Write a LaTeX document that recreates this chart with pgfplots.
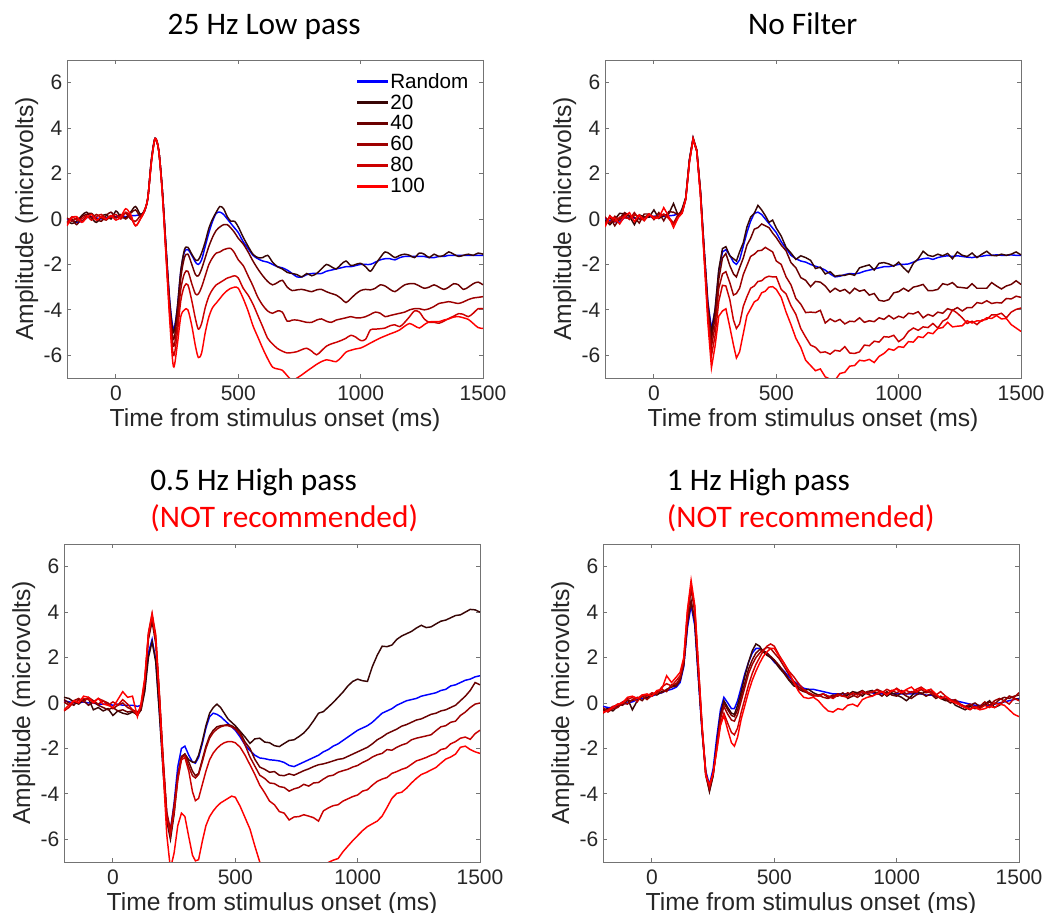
\documentclass[border=0pt]{standalone}
\usepackage{pgfplots}
\pgfplotsset{compat=1.18}
\usepackage{pgfplotstable}
\usepackage{fontspec}
\setmainfont{Liberation Sans}
\newfontfamily\calibri{Carlito}
\definecolor{erpR}{rgb}{0,0,1}
\definecolor{erpA}{rgb}{0.22,0.02,0.02}
\definecolor{erpB}{rgb}{0.42,0,0}
\definecolor{erpC}{rgb}{0.62,0,0}
\definecolor{erpD}{rgb}{0.8,0,0}
\definecolor{erpE}{rgb}{1,0,0}
\definecolor{axgray}{rgb}{0.45,0.45,0.45}
\definecolor{txt}{rgb}{0.15,0.15,0.15}

\pgfplotstableread{
t R A B C D E
-200 0.00 -0.10 -0.15 0.05 -0.20 -0.30
-180 -0.05 -0.20 0.00 -0.10 0.10 0.05
-160 -0.15 -0.10 -0.25 0.05 -0.05 0.10
-140 -0.10 0.15 0.10 -0.10 0.00 -0.15
-120 0.05 0.30 0.20 0.10 0.15 0.05
-100 0.10 0.05 0.25 0.05 -0.05 0.20
-80 0.05 -0.15 0.00 0.20 0.10 -0.05
-60 0.00 0.10 -0.10 0.05 0.20 0.10
-40 0.05 0.20 0.15 -0.05 0.00 0.00
-20 0.10 0.00 0.30 0.15 0.10 0.15
0 0.10 0.35 0.05 0.05 0.20 -0.05
20 0.15 0.10 0.20 0.15 0.00 0.10
40 0.10 0.05 0.00 0.25 0.30 0.45
60 0.15 0.30 0.25 0.00 0.10 0.20
80 0.15 0.55 0.40 -0.10 -0.30 -0.30
100 0.20 0.20 0.10 0.15 0.00 0.00
115 0.30 0.35 0.30 0.30 0.35 0.30
130 0.90 0.90 0.90 0.90 0.90 0.90
145 2.60 2.60 2.60 2.55 2.50 2.50
160 3.55 3.55 3.55 3.50 3.50 3.55
175 3.00 3.00 3.00 3.00 3.00 3.00
190 1.20 1.20 1.20 1.20 1.10 1.00
205 -1.30 -1.30 -1.40 -1.50 -1.60 -1.70
220 -3.60 -3.70 -3.90 -4.00 -4.20 -4.50
235 -4.85 -5.00 -5.30 -5.60 -6.00 -6.50
250 -4.00 -4.00 -4.30 -4.70 -5.10 -5.60
265 -2.30 -2.30 -2.60 -3.10 -3.60 -4.30
280 -1.45 -1.35 -1.70 -2.40 -2.95 -4.00
294 -1.35 -1.25 -1.55 -2.30 -2.90 -4.00
310 -1.60 -1.55 -2.00 -2.85 -3.60 -4.70
325 -1.90 -1.80 -2.45 -3.30 -4.40 -5.60
337 -2.00 -1.80 -2.50 -3.30 -4.85 -6.10
350 -1.80 -1.50 -2.20 -3.00 -4.60 -5.90
365 -1.20 -1.00 -1.70 -2.50 -3.90 -5.00
380 -0.60 -0.40 -1.20 -2.00 -3.40 -4.30
395 -0.10 0.00 -0.80 -1.70 -3.10 -3.90
410 0.25 0.30 -0.50 -1.50 -2.90 -3.70
425 0.30 0.55 -0.35 -1.45 -2.80 -3.50
440 0.20 0.45 -0.25 -1.35 -2.70 -3.30
455 0.00 0.10 -0.25 -1.30 -2.60 -3.15
470 -0.20 -0.10 -0.40 -1.30 -2.55 -3.05
485 -0.40 -0.10 -0.60 -1.50 -2.50 -3.00
500 -0.60 -0.35 -0.85 -1.80 -2.60 -3.05
520 -1.00 -0.80 -1.10 -2.05 -3.05 -3.50
540 -1.30 -1.20 -1.45 -2.50 -3.35 -4.05
560 -1.60 -1.55 -1.85 -2.95 -3.75 -4.70
580 -1.75 -1.70 -2.20 -3.45 -4.25 -5.20
600 -1.85 -1.70 -2.50 -3.80 -4.75 -5.70
620 -1.90 -1.60 -2.75 -4.05 -5.25 -6.15
640 -2.00 -1.90 -2.90 -4.15 -5.50 -6.52
660 -2.10 -2.10 -2.80 -4.05 -5.70 -6.60
680 -2.15 -2.20 -2.70 -4.10 -5.82 -6.66
700 -2.25 -2.35 -3.00 -4.50 -5.90 -6.90
720 -2.40 -2.40 -3.15 -4.45 -5.88 -7.10
740 -2.55 -2.45 -3.12 -4.45 -5.84 -7.00
760 -2.55 -2.55 -3.10 -4.50 -5.75 -6.86
780 -2.45 -2.40 -3.15 -4.55 -5.69 -6.70
800 -2.40 -2.50 -3.20 -4.55 -5.82 -6.55
820 -2.40 -2.40 -3.12 -4.45 -5.98 -6.40
840 -2.40 -2.20 -3.10 -4.40 -5.80 -6.28
860 -2.30 -2.00 -3.20 -4.50 -5.60 -6.20
880 -2.25 -2.10 -3.28 -4.55 -5.50 -6.24
900 -2.20 -2.20 -3.35 -4.45 -5.43 -6.28
920 -2.15 -2.00 -3.50 -4.40 -5.35 -6.10
940 -2.10 -1.85 -3.68 -4.35 -5.25 -5.86
960 -2.10 -2.05 -3.50 -4.30 -5.12 -5.78
980 -2.05 -2.00 -3.30 -4.35 -5.20 -5.72
1000 -2.00 -1.95 -3.15 -4.35 -5.35 -5.68
1020 -2.00 -2.10 -3.10 -4.30 -5.30 -5.58
1040 -2.00 -2.30 -3.12 -4.20 -4.88 -5.46
1060 -1.90 -2.00 -3.05 -4.10 -4.85 -5.35
1080 -1.80 -1.70 -2.90 -4.15 -4.83 -5.24
1100 -1.75 -1.45 -2.95 -4.30 -4.80 -5.15
1120 -1.75 -1.55 -3.10 -4.25 -4.70 -5.06
1140 -1.80 -1.70 -3.20 -4.20 -4.66 -4.98
1160 -1.70 -1.60 -3.05 -4.15 -4.74 -4.88
1180 -1.65 -1.55 -2.90 -4.10 -4.55 -4.72
1200 -1.65 -1.60 -2.85 -4.00 -4.30 -4.60
1220 -1.65 -1.70 -2.85 -3.95 -4.05 -4.70
1240 -1.65 -1.50 -2.95 -3.95 -4.10 -4.80
1260 -1.65 -1.55 -3.05 -4.00 -4.40 -4.65
1280 -1.70 -1.70 -3.00 -3.95 -4.55 -4.53
1300 -1.70 -1.55 -2.90 -3.85 -4.55 -4.52
1320 -1.65 -1.65 -3.00 -3.72 -4.59 -4.52
1340 -1.65 -1.60 -3.10 -3.68 -4.50 -4.45
1360 -1.60 -1.45 -3.00 -3.64 -4.38 -4.40
1380 -1.60 -1.55 -2.85 -3.68 -4.28 -4.32
1400 -1.60 -1.65 -2.90 -3.72 -4.17 -4.30
1420 -1.60 -1.60 -3.10 -3.65 -4.20 -4.35
1440 -1.60 -1.55 -3.00 -3.55 -4.30 -4.42
1460 -1.60 -1.60 -2.85 -3.48 -4.15 -4.60
1480 -1.60 -1.50 -2.78 -3.45 -3.95 -4.78
1500 -1.60 -1.55 -2.90 -3.42 -3.95 -4.82
}\tA

\pgfplotstableread{
t R A B C D E
-200 0.02 -0.05 -0.20 0.10 -0.25 -0.35
-180 -0.08 -0.25 0.08 -0.18 0.15 0.10
-160 -0.12 -0.02 -0.30 0.12 -0.12 0.02
-140 -0.14 0.25 0.02 -0.05 0.08 -0.22
-120 0.06 0.22 0.28 0.18 0.05 0.12
-100 0.08 0.12 0.15 -0.02 0.02 0.28
-80 0.04 -0.25 0.08 0.28 0.18 -0.12
-60 0.02 0.18 -0.18 -0.02 0.12 0.18
-40 0.06 0.10 0.22 0.05 -0.08 -0.06
-20 0.08 0.08 0.22 0.22 0.18 0.22
0 0.12 0.40 -0.02 -0.02 0.10 0.02
20 0.13 0.02 0.28 0.22 0.08 0.05
40 0.11 0.15 -0.08 0.18 0.22 0.50
60 0.14 0.22 0.32 0.08 0.02 0.12
80 0.16 0.68 0.30 -0.18 -0.22 -0.38
100 0.22 0.12 0.18 0.22 0.08 0.08
115 0.30 0.45 0.25 0.35 0.28 0.25
130 0.90 0.95 0.88 0.92 0.85 0.90
145 2.60 2.62 2.58 2.55 2.52 2.48
160 3.55 3.58 3.52 3.50 3.48 3.55
175 3.00 3.05 2.98 3.00 3.02 2.98
190 1.20 1.25 1.18 1.20 1.12 1.00
205 -1.30 -1.28 -1.42 -1.50 -1.58 -1.72
220 -3.60 -3.68 -3.92 -4.02 -4.18 -4.52
235 -4.85 -5.05 -5.28 -5.62 -6.02 -6.55
250 -4.00 -3.95 -4.32 -4.68 -5.12 -5.58
265 -2.30 -2.22 -2.65 -3.05 -3.62 -4.28
280 -1.45 -1.30 -1.72 -2.42 -2.92 -4.05
294 -1.35 -1.22 -1.52 -2.32 -2.95 -3.95
310 -1.60 -1.62 -2.05 -2.80 -3.55 -4.75
325 -1.90 -1.75 -2.42 -3.35 -4.45 -5.55
337 -2.00 -1.85 -2.55 -3.28 -4.82 -6.12
350 -1.80 -1.45 -2.15 -3.05 -4.62 -5.85
365 -1.20 -1.05 -1.72 -2.45 -3.85 -5.05
380 -0.60 -0.35 -1.15 -2.05 -3.42 -4.25
395 -0.10 0.08 -0.85 -1.65 -3.05 -3.95
410 0.25 0.25 -0.45 -1.55 -2.95 -3.65
425 0.30 0.60 -0.38 -1.40 -2.75 -3.55
440 0.20 0.40 -0.22 -1.38 -2.72 -3.25
455 0.00 0.15 -0.30 -1.25 -2.58 -3.18
470 -0.20 -0.15 -0.38 -1.35 -2.52 -3.00
485 -0.40 -0.05 -0.62 -1.45 -2.55 -2.98
500 -0.60 -0.40 -0.82 -1.85 -2.55 -3.10
520 -1.00 -0.75 -1.15 -2.00 -3.10 -3.45
540 -1.30 -1.25 -1.40 -2.55 -3.30 -4.10
560 -1.60 -1.50 -1.92 -2.90 -3.82 -4.65
580 -1.75 -1.78 -2.15 -3.50 -4.20 -5.25
600 -1.85 -1.62 -2.58 -3.75 -4.82 -5.65
620 -1.90 -1.70 -2.70 -4.12 -5.20 -6.22
640 -2.00 -1.82 -2.98 -4.10 -5.55 -6.45
660 -2.08 -2.18 -2.75 -4.12 -5.65 -6.68
680 -2.15 -2.12 -2.78 -4.02 -5.88 -6.60
700 -2.25 -2.42 -2.95 -4.58 -5.85 -6.95
720 -2.42 -2.32 -3.22 -4.40 -5.95 -7.05
740 -2.55 -2.52 -3.05 -4.52 -5.78 -7.10
760 -2.52 -2.48 -3.18 -4.42 -5.82 -6.80
780 -2.45 -2.48 -3.10 -4.62 -5.62 -6.75
800 -2.40 -2.42 -3.28 -4.50 -5.90 -6.48
820 -2.42 -2.48 -3.05 -4.52 -5.92 -6.45
840 -2.38 -2.15 -3.18 -4.35 -5.85 -6.22
860 -2.30 -2.08 -3.12 -4.55 -5.55 -6.25
880 -2.25 -2.02 -3.35 -4.48 -5.58 -6.18
900 -2.20 -2.25 -3.28 -4.52 -5.38 -6.32
920 -2.15 -1.95 -3.58 -4.35 -5.42 -6.05
940 -2.10 -1.92 -3.62 -4.42 -5.18 -5.92
960 -2.10 -1.98 -3.55 -4.25 -5.20 -5.72
980 -2.05 -2.08 -3.25 -4.40 -5.12 -5.78
1000 -2.00 -1.90 -3.20 -4.28 -5.40 -5.62
1020 -2.00 -2.15 -3.05 -4.35 -5.25 -5.65
1040 -1.98 -2.35 -3.18 -4.15 -4.95 -5.40
1060 -1.90 -1.95 -3.00 -4.18 -4.80 -5.42
1080 -1.80 -1.75 -2.95 -4.08 -4.90 -5.18
1100 -1.75 -1.42 -2.88 -4.35 -4.75 -5.22
1120 -1.72 -1.60 -3.15 -4.20 -4.78 -5.00
1140 -1.78 -1.65 -3.15 -4.28 -4.60 -5.05
1160 -1.70 -1.55 -3.10 -4.10 -4.80 -4.82
1180 -1.65 -1.62 -2.85 -4.15 -4.50 -4.78
1200 -1.62 -1.52 -2.90 -3.95 -4.38 -4.55
1220 -1.65 -1.75 -2.80 -4.02 -4.00 -4.75
1240 -1.62 -1.45 -3.00 -3.90 -4.15 -4.72
1260 -1.65 -1.60 -3.02 -4.05 -4.35 -4.70
1280 -1.68 -1.65 -3.05 -3.90 -4.60 -4.48
1300 -1.70 -1.50 -2.85 -3.90 -4.50 -4.58
1320 -1.66 -1.70 -3.05 -3.68 -4.65 -4.48
1340 -1.64 -1.55 -3.05 -3.72 -4.45 -4.50
1360 -1.60 -1.42 -3.05 -3.60 -4.42 -4.35
1380 -1.60 -1.60 -2.80 -3.72 -4.22 -4.38
1400 -1.58 -1.62 -2.95 -3.68 -4.22 -4.25
1420 -1.60 -1.55 -3.08 -3.70 -4.15 -4.40
1440 -1.60 -1.60 -2.95 -3.50 -4.35 -4.38
1460 -1.58 -1.55 -2.88 -3.52 -4.10 -4.65
1480 -1.60 -1.45 -2.72 -3.40 -3.98 -4.80
1500 -1.60 -1.58 -2.88 -3.45 -3.92 -4.95
}\tB

\pgfplotstableread{
t R A B C D E
-200 0.10 0.25 0.15 0.05 -0.35 -0.30
-180 0.05 0.20 0.00 -0.10 -0.20 -0.10
-160 0.00 0.05 -0.10 0.10 0.05 0.10
-140 0.00 -0.05 0.15 0.20 0.10 0.00
-120 0.05 0.15 0.10 0.05 0.20 0.30
-100 0.00 0.20 -0.10 0.25 0.15 0.25
-80 0.00 -0.30 0.05 0.10 0.05 0.00
-60 -0.05 -0.20 -0.10 -0.05 0.20 0.20
-40 -0.05 -0.35 -0.20 0.10 0.10 -0.05
-20 -0.05 -0.25 -0.30 0.00 -0.10 -0.10
0 -0.10 -0.55 -0.20 -0.25 0.05 -0.20
20 -0.05 -0.35 -0.35 -0.10 -0.10 0.15
40 -0.10 -0.45 -0.30 0.00 0.15 0.50
60 -0.10 -0.50 -0.40 -0.20 -0.05 0.25
80 -0.10 -0.40 -0.35 -0.30 -0.30 0.30
100 -0.15 -0.50 -0.55 -0.40 -0.55 -0.60
115 -0.10 -0.30 -0.30 -0.20 -0.10 0.00
130 0.60 0.50 0.80 0.90 1.00 1.10
145 2.20 2.00 2.80 3.00 3.10 3.00
160 2.80 2.70 3.60 3.75 3.95 3.90
175 1.90 1.80 2.60 2.80 3.00 2.80
190 -0.40 -0.50 0.20 0.30 0.40 0.20
205 -2.80 -3.00 -2.60 -2.40 -2.50 -2.90
220 -4.90 -5.20 -5.00 -4.80 -5.00 -5.80
235 -5.60 -6.00 -5.90 -5.60 -5.80 -7.30
250 -4.40 -4.90 -4.60 -4.50 -4.80 -6.60
265 -2.80 -3.30 -3.20 -3.20 -3.40 -5.40
280 -2.00 -2.40 -2.35 -2.40 -2.50 -4.85
294 -1.90 -2.25 -2.25 -2.30 -2.40 -5.00
310 -2.30 -2.50 -2.60 -2.80 -3.00 -5.90
325 -2.60 -2.60 -3.00 -3.20 -3.90 -6.70
337 -2.65 -2.60 -3.20 -3.30 -4.30 -6.95
350 -2.40 -2.30 -3.10 -3.15 -4.20 -6.90
365 -1.80 -1.70 -2.50 -2.60 -3.60 -6.10
380 -1.10 -1.00 -1.90 -2.00 -3.00 -5.40
395 -0.60 -0.45 -1.45 -1.55 -2.50 -5.00
410 -0.45 -0.20 -1.20 -1.30 -2.20 -4.75
425 -0.50 -0.05 -1.05 -1.15 -2.00 -4.55
440 -0.60 -0.20 -1.00 -1.05 -1.85 -4.40
455 -0.75 -0.45 -0.98 -1.00 -1.75 -4.30
470 -0.90 -0.70 -0.95 -1.00 -1.70 -4.20
485 -1.05 -0.85 -1.00 -1.05 -1.70 -4.10
500 -1.20 -1.00 -1.10 -1.15 -1.75 -4.15
520 -1.50 -1.25 -1.30 -1.40 -1.95 -4.55
540 -1.85 -1.50 -1.72 -1.85 -2.30 -5.05
560 -2.10 -1.78 -2.00 -2.38 -2.72 -5.55
580 -2.30 -1.58 -2.48 -2.78 -3.15 -6.30
600 -2.42 -1.55 -2.82 -3.18 -3.62 -7.00
620 -2.45 -1.72 -2.92 -3.32 -3.95 -7.50
640 -2.50 -1.75 -3.05 -3.52 -4.32 -7.90
660 -2.52 -1.88 -3.02 -3.55 -4.48 -8.10
680 -2.55 -1.92 -3.18 -3.68 -4.78 -8.30
700 -2.62 -1.78 -3.20 -3.72 -4.85 -8.40
720 -2.75 -1.65 -3.12 -3.88 -5.15 -8.50
740 -2.80 -1.62 -3.18 -3.78 -5.02 -8.50
760 -2.70 -1.48 -3.08 -3.72 -5.00 -8.45
780 -2.60 -1.32 -2.98 -3.58 -4.92 -8.30
800 -2.50 -1.08 -2.90 -3.66 -4.98 -8.10
820 -2.40 -0.78 -2.80 -3.52 -5.05 -7.90
840 -2.30 -0.45 -2.72 -3.50 -5.20 -7.60
860 -2.15 -0.38 -2.68 -3.35 -4.75 -7.30
880 -2.05 -0.18 -2.62 -3.22 -4.62 -7.02
900 -1.90 0.02 -2.55 -3.18 -4.52 -6.92
920 -1.80 0.25 -2.48 -3.05 -4.48 -6.85
940 -1.65 0.48 -2.45 -2.98 -4.32 -6.55
960 -1.50 0.75 -2.35 -2.92 -4.22 -6.30
980 -1.35 0.95 -2.25 -2.82 -4.12 -6.06
1000 -1.20 1.05 -2.15 -2.75 -4.05 -5.84
1020 -1.10 0.98 -2.05 -2.62 -3.88 -5.62
1040 -1.00 0.95 -1.95 -2.52 -3.82 -5.44
1060 -0.85 1.60 -1.80 -2.38 -3.62 -5.32
1080 -0.65 2.10 -1.62 -2.28 -3.45 -5.20
1100 -0.45 2.50 -1.50 -2.22 -3.35 -4.98
1120 -0.35 2.48 -1.35 -2.05 -3.28 -4.60
1140 -0.25 2.55 -1.25 -2.08 -3.10 -4.20
1160 -0.10 2.80 -1.15 -1.95 -3.02 -3.98
1180 0.00 2.95 -1.02 -1.85 -2.92 -3.93
1200 0.10 3.05 -0.95 -1.78 -2.85 -3.75
1220 0.15 3.15 -0.85 -1.62 -2.70 -3.52
1240 0.20 3.30 -0.75 -1.55 -2.55 -3.32
1260 0.30 3.42 -0.70 -1.50 -2.48 -3.15
1280 0.35 3.32 -0.60 -1.45 -2.40 -3.06
1300 0.40 3.35 -0.50 -1.40 -2.30 -2.95
1320 0.45 3.48 -0.45 -1.22 -2.22 -2.84
1340 0.55 3.60 -0.35 -1.05 -2.05 -2.65
1360 0.60 3.65 -0.30 -1.00 -2.00 -2.47
1380 0.75 3.75 -0.20 -0.85 -1.80 -2.38
1400 0.80 3.85 -0.10 -0.80 -1.70 -2.25
1420 0.90 3.88 0.10 -0.55 -1.55 -1.95
1440 1.00 4.00 0.30 -0.40 -1.50 -1.90
1460 1.05 4.12 0.55 -0.20 -1.60 -2.05
1480 1.15 4.10 0.90 -0.05 -1.35 -2.15
1500 1.20 4.00 0.80 0.00 -1.20 -2.22
}\tC

\pgfplotstableread{
t R A B C D E
-200 -0.15 -0.30 -0.35 -0.20 -0.45 -0.40
-180 -0.20 -0.25 -0.30 -0.40 -0.30 -0.35
-160 -0.20 -0.35 -0.20 -0.25 -0.15 -0.20
-140 -0.10 -0.15 -0.05 -0.20 -0.10 -0.05
-120 -0.05 0.00 -0.10 0.00 0.05 0.00
-100 0.00 0.20 0.10 -0.05 0.15 0.25
-80 0.05 -0.30 0.10 0.15 0.25 0.30
-60 0.15 0.10 0.25 0.20 0.05 0.20
-40 0.20 0.30 0.10 0.30 0.35 0.35
-20 0.25 0.20 0.35 0.15 0.30 0.40
0 0.30 0.40 0.30 0.35 0.45 0.30
20 0.40 0.35 0.50 0.45 0.40 0.55
40 0.45 0.50 0.45 0.60 0.70 0.60
60 0.55 0.55 0.60 0.50 0.85 1.20
80 0.60 0.75 0.70 0.80 0.75 0.90
100 0.70 0.80 0.75 0.85 1.00 1.15
115 0.90 1.00 1.00 1.10 1.20 1.35
130 1.60 1.70 1.70 1.80 1.90 2.00
145 3.30 3.50 3.50 3.80 4.00 4.10
160 4.30 4.50 4.45 5.00 5.20 5.40
175 3.40 3.60 3.60 4.00 4.20 4.30
190 1.00 1.20 1.20 1.50 1.60 1.60
205 -1.30 -1.20 -1.20 -1.10 -1.00 -1.10
220 -3.00 -3.10 -3.20 -3.10 -3.10 -3.20
235 -3.60 -3.90 -3.85 -3.75 -3.70 -3.60
250 -2.90 -3.20 -3.20 -3.10 -3.10 -3.10
265 -1.50 -1.80 -1.90 -1.90 -2.00 -2.10
280 -0.30 -0.50 -0.60 -0.70 -0.90 -1.00
294 0.25 0.10 0.00 -0.15 -0.45 -0.55
310 0.00 -0.20 -0.30 -0.50 -0.90 -1.20
325 -0.25 -0.45 -0.55 -0.75 -1.30 -1.75
337 -0.25 -0.50 -0.60 -0.80 -1.40 -1.90
350 0.10 -0.10 -0.30 -0.50 -1.10 -1.50
365 0.70 0.50 0.30 0.10 -0.40 -0.70
380 1.30 1.20 0.90 0.70 0.20 -0.10
395 1.80 1.80 1.50 1.30 0.80 0.50
410 2.20 2.30 1.90 1.70 1.30 1.00
425 2.40 2.60 2.20 2.00 1.70 1.40
440 2.40 2.50 2.35 2.20 2.00 1.75
455 2.30 2.25 2.30 2.35 2.30 2.05
470 2.20 2.10 2.20 2.45 2.50 2.25
485 2.00 2.00 2.05 2.40 2.60 2.40
500 1.80 1.85 1.90 2.20 2.50 2.40
520 1.60 1.55 1.65 1.95 2.10 2.05
540 1.40 1.30 1.35 1.60 1.75 1.75
560 1.15 1.00 1.05 1.25 1.40 1.35
580 0.95 0.75 0.85 0.95 1.15 0.90
600 0.80 0.70 0.60 0.70 0.85 0.50
620 0.65 0.55 0.50 0.55 0.60 0.25
640 0.60 0.60 0.45 0.40 0.45 0.20
660 0.60 0.45 0.35 0.30 0.35 0.25
680 0.55 0.35 0.30 0.35 0.30 0.10
700 0.50 0.40 0.40 0.25 0.40 -0.15
720 0.45 0.30 0.25 0.20 0.30 -0.35
740 0.40 0.25 0.35 0.30 0.20 -0.40
760 0.40 0.40 0.30 0.40 0.35 -0.25
780 0.40 0.30 0.45 0.30 0.30 -0.30
800 0.40 0.35 0.20 0.45 0.25 -0.10
820 0.40 0.50 0.30 0.35 0.45 -0.05
840 0.45 0.45 0.45 0.25 0.35 -0.15
860 0.45 0.30 0.55 0.40 0.50 0.15
880 0.45 0.50 0.40 0.50 0.40 0.25
900 0.45 0.55 0.30 0.45 0.50 0.30
920 0.40 0.40 0.45 0.60 0.55 0.40
940 0.40 0.50 0.30 0.50 0.45 0.50
960 0.40 0.30 0.50 0.40 0.60 0.35
980 0.40 0.45 0.35 0.55 0.50 0.55
1000 0.40 0.35 0.30 0.45 0.65 0.60
1020 0.40 0.25 0.45 0.55 0.50 0.45
1040 0.40 0.10 0.30 0.40 0.55 0.60
1060 0.40 0.30 0.20 0.50 0.45 0.70
1080 0.40 0.55 0.35 0.45 0.60 0.50
1100 0.40 0.40 0.45 0.60 0.70 0.65
1120 0.35 0.50 0.30 0.45 0.55 0.55
1140 0.35 0.60 0.40 0.50 0.45 0.60
1160 0.30 0.35 0.20 0.30 0.35 0.40
1180 0.25 0.20 0.30 0.25 0.50 0.20
1200 0.20 0.10 0.15 0.20 0.30 0.30
1220 0.15 0.15 0.00 0.10 0.15 0.10
1240 0.10 -0.10 0.10 0.15 0.05 0.00
1260 0.05 -0.20 -0.10 -0.05 -0.05 -0.10
1280 0.00 -0.30 -0.20 -0.15 -0.20 -0.20
1300 -0.05 -0.15 -0.10 -0.05 -0.30 -0.25
1320 -0.10 -0.25 0.00 -0.20 -0.15 -0.20
1340 -0.10 -0.20 -0.15 -0.15 -0.25 -0.30
1360 -0.10 -0.05 -0.10 0.05 -0.10 -0.25
1380 -0.10 0.10 0.05 -0.10 -0.20 -0.15
1400 -0.05 -0.20 -0.05 0.10 0.00 -0.20
1420 0.00 -0.10 0.15 0.20 -0.05 -0.05
1440 0.05 0.10 0.25 0.10 0.10 -0.10
1460 0.10 0.30 0.20 0.30 -0.05 -0.30
1480 0.15 0.20 0.30 0.25 0.20 -0.50
1500 0.20 0.15 0.35 0.45 0.10 -0.60
}\tD

\pgfplotsset{
  erp/.style={
    scale only axis, width=312pt, height=238.5pt,
    xmin=-200, xmax=1500, ymin=-7, ymax=7,
    xtick={0,500,1000,1500}, xticklabels={0,500,1000,1500},
    ytick={-6,-4,-2,0,2,4,6}, yticklabels={-6,-4,-2,0,2,4,6},
    tick align=inside, major tick length=3pt,
    axis line style={axgray, line width=0.7pt},
    every tick/.style={axgray, line width=0.7pt},
    tick label style={font=\fontsize{15.75}{17}\selectfont, text=txt},
    xticklabel style={yshift=-2.5pt},
    xlabel={Time from stimulus onset (ms)},
    ylabel={Amplitude (microvolts)},
    xlabel style={font=\fontsize{18.5}{20}\selectfont, text=txt, at={(axis description cs:0.5,-0.154)}, anchor=base},
    ylabel style={font=\fontsize{18.5}{20}\selectfont, text=txt, at={(axis description cs:-0.0817,0.5)}, anchor=base, rotate=0},
  },
}

\begin{document}
\begin{tikzpicture}
\useasboundingbox (0,0) rectangle (789.75pt,684.75pt);

\node[font=\calibri\fontsize{23.5}{26}\selectfont, anchor=base, inner sep=0pt] at (198.1pt,658.5pt) {25 Hz Low pass};
\node[font=\calibri\fontsize{23.5}{26}\selectfont, anchor=base, inner sep=0pt] at (602pt,658.5pt) {No Filter};
\node[font=\calibri\fontsize{23.5}{26}\selectfont, anchor=base west, inner sep=0pt] at (112.5pt,316.5pt) {0.5 Hz High pass};
\node[font=\calibri\fontsize{23.5}{26}\selectfont, anchor=base west, inner sep=0pt, text=red] at (112.5pt,289pt) {(NOT recommended)};
\node[font=\calibri\fontsize{23.5}{26}\selectfont, anchor=base west, inner sep=0pt] at (500pt,316.5pt) {1 Hz High pass};
\node[font=\calibri\fontsize{23.5}{26}\selectfont, anchor=base west, inner sep=0pt, text=red] at (500pt,289pt) {(NOT recommended)};

\begin{axis}[erp, at={(50.25pt,401.25pt)}, anchor=south west,
  legend style={at={(axis description cs:0.688,0.976)}, anchor=north west, draw=none, fill=none,
    font=\fontsize{15.5}{15.5}\selectfont, row sep=-0.7pt},
  legend cell align=left,
  legend image code/.code={\fill[#1] (0pt,-0.6pt) rectangle (21.5pt,0.6pt);}]
\addplot[erpR, line width=1.1pt, smooth] table[x=t,y=R]{\tA};
\addplot[erpA, line width=1.1pt, smooth] table[x=t,y=A]{\tA};
\addplot[erpB, line width=1.1pt, smooth] table[x=t,y=B]{\tA};
\addplot[erpC, line width=1.1pt, smooth] table[x=t,y=C]{\tA};
\addplot[erpD, line width=1.1pt, smooth] table[x=t,y=D]{\tA};
\addplot[erpE, line width=1.1pt, smooth] table[x=t,y=E]{\tA};
\legend{Random,20,40,60,80,100}
\end{axis}

\begin{axis}[erp, at={(453.75pt,401.25pt)}, anchor=south west]
\addplot[erpR, line width=1.1pt] table[x=t,y=R]{\tB};
\addplot[erpA, line width=1.1pt] table[x=t,y=A]{\tB};
\addplot[erpB, line width=1.1pt] table[x=t,y=B]{\tB};
\addplot[erpC, line width=1.1pt] table[x=t,y=C]{\tB};
\addplot[erpD, line width=1.1pt] table[x=t,y=D]{\tB};
\addplot[erpE, line width=1.1pt] table[x=t,y=E]{\tB};
\end{axis}

\begin{axis}[erp, at={(48pt,38.25pt)}, anchor=south west]
\addplot[erpR, line width=1.1pt] table[x=t,y=R]{\tC};
\addplot[erpA, line width=1.1pt] table[x=t,y=A]{\tC};
\addplot[erpB, line width=1.1pt] table[x=t,y=B]{\tC};
\addplot[erpC, line width=1.1pt] table[x=t,y=C]{\tC};
\addplot[erpD, line width=1.1pt] table[x=t,y=D]{\tC};
\addplot[erpE, line width=1.1pt] table[x=t,y=E]{\tC};
\end{axis}

\begin{axis}[erp, at={(452.25pt,38.25pt)}, anchor=south west]
\addplot[erpR, line width=1.1pt] table[x=t,y=R]{\tD};
\addplot[erpA, line width=1.1pt] table[x=t,y=A]{\tD};
\addplot[erpB, line width=1.1pt] table[x=t,y=B]{\tD};
\addplot[erpC, line width=1.1pt] table[x=t,y=C]{\tD};
\addplot[erpD, line width=1.1pt] table[x=t,y=D]{\tD};
\addplot[erpE, line width=1.1pt] table[x=t,y=E]{\tD};
\end{axis}
\end{tikzpicture}
\end{document}
